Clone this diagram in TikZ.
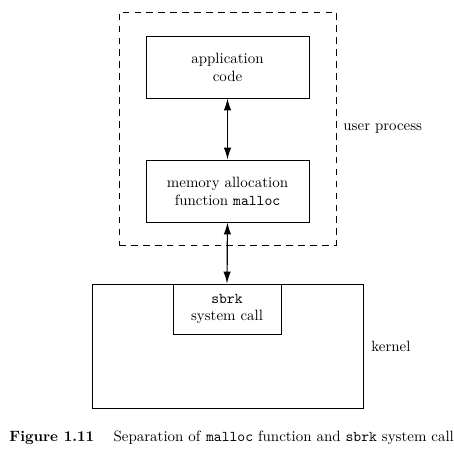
\documentclass[tikz,border=0pt]{standalone}
\usepackage{fontspec}
\usetikzlibrary{arrows.meta}

\begin{document}
\begin{tikzpicture}[x=0.67pt,y=-0.67pt]
        \tikzstyle{every path}=[line width=0.6pt]
        \useasboundingbox (0,0) rectangle (454,461);

        \tikzstyle{box}=[draw,align=center,inner sep=0pt]
        \tikzstyle{area}=[draw,inner sep=0pt]
        \tikzstyle{lbl}=[anchor=west,inner sep=0pt]
        \tikzstyle{link}=[line width=0.8pt,{Latex[length=8pt,width=5pt]}-{Latex[length=8pt,width=5pt]}]

        % user process part
        \node[area,dash pattern=on 4.5pt off 3.5pt,minimum width=217*0.67pt,minimum height=233*0.67pt] at (227.5,128.5) (user) {};
        \node[box,minimum width=163*0.67pt,minimum height=62*0.67pt] at (227.5,67) (app) {application\\code};
        \node[box,minimum width=163*0.67pt,minimum height=62*0.67pt] at (227.5,191) (malloc) {memory allocation\\function \texttt{malloc}};
        \node[lbl] at (343,129) (userlabel) {user process};

        % kernel part
        \node[area,minimum width=271*0.67pt,minimum height=124*0.67pt] at (227.5,346) (kernel) {};
        \node[box,minimum width=108*0.67pt,minimum height=50*0.67pt] at (227,309) (sbrk) {\texttt{sbrk}\\system call};
        \node[lbl] at (371,346) (kernellabel) {kernel};

        \draw[link] (app.south) -- (malloc.north);
        \draw[link] (malloc.south) -- (sbrk.north);

        %caption
        \node[lbl] at (9,438) (caption) {\textbf{Figure 1.11}\hspace{1.3em}Separation of \texttt{malloc} function and \texttt{sbrk} system call};
\end{tikzpicture}
\end{document}
